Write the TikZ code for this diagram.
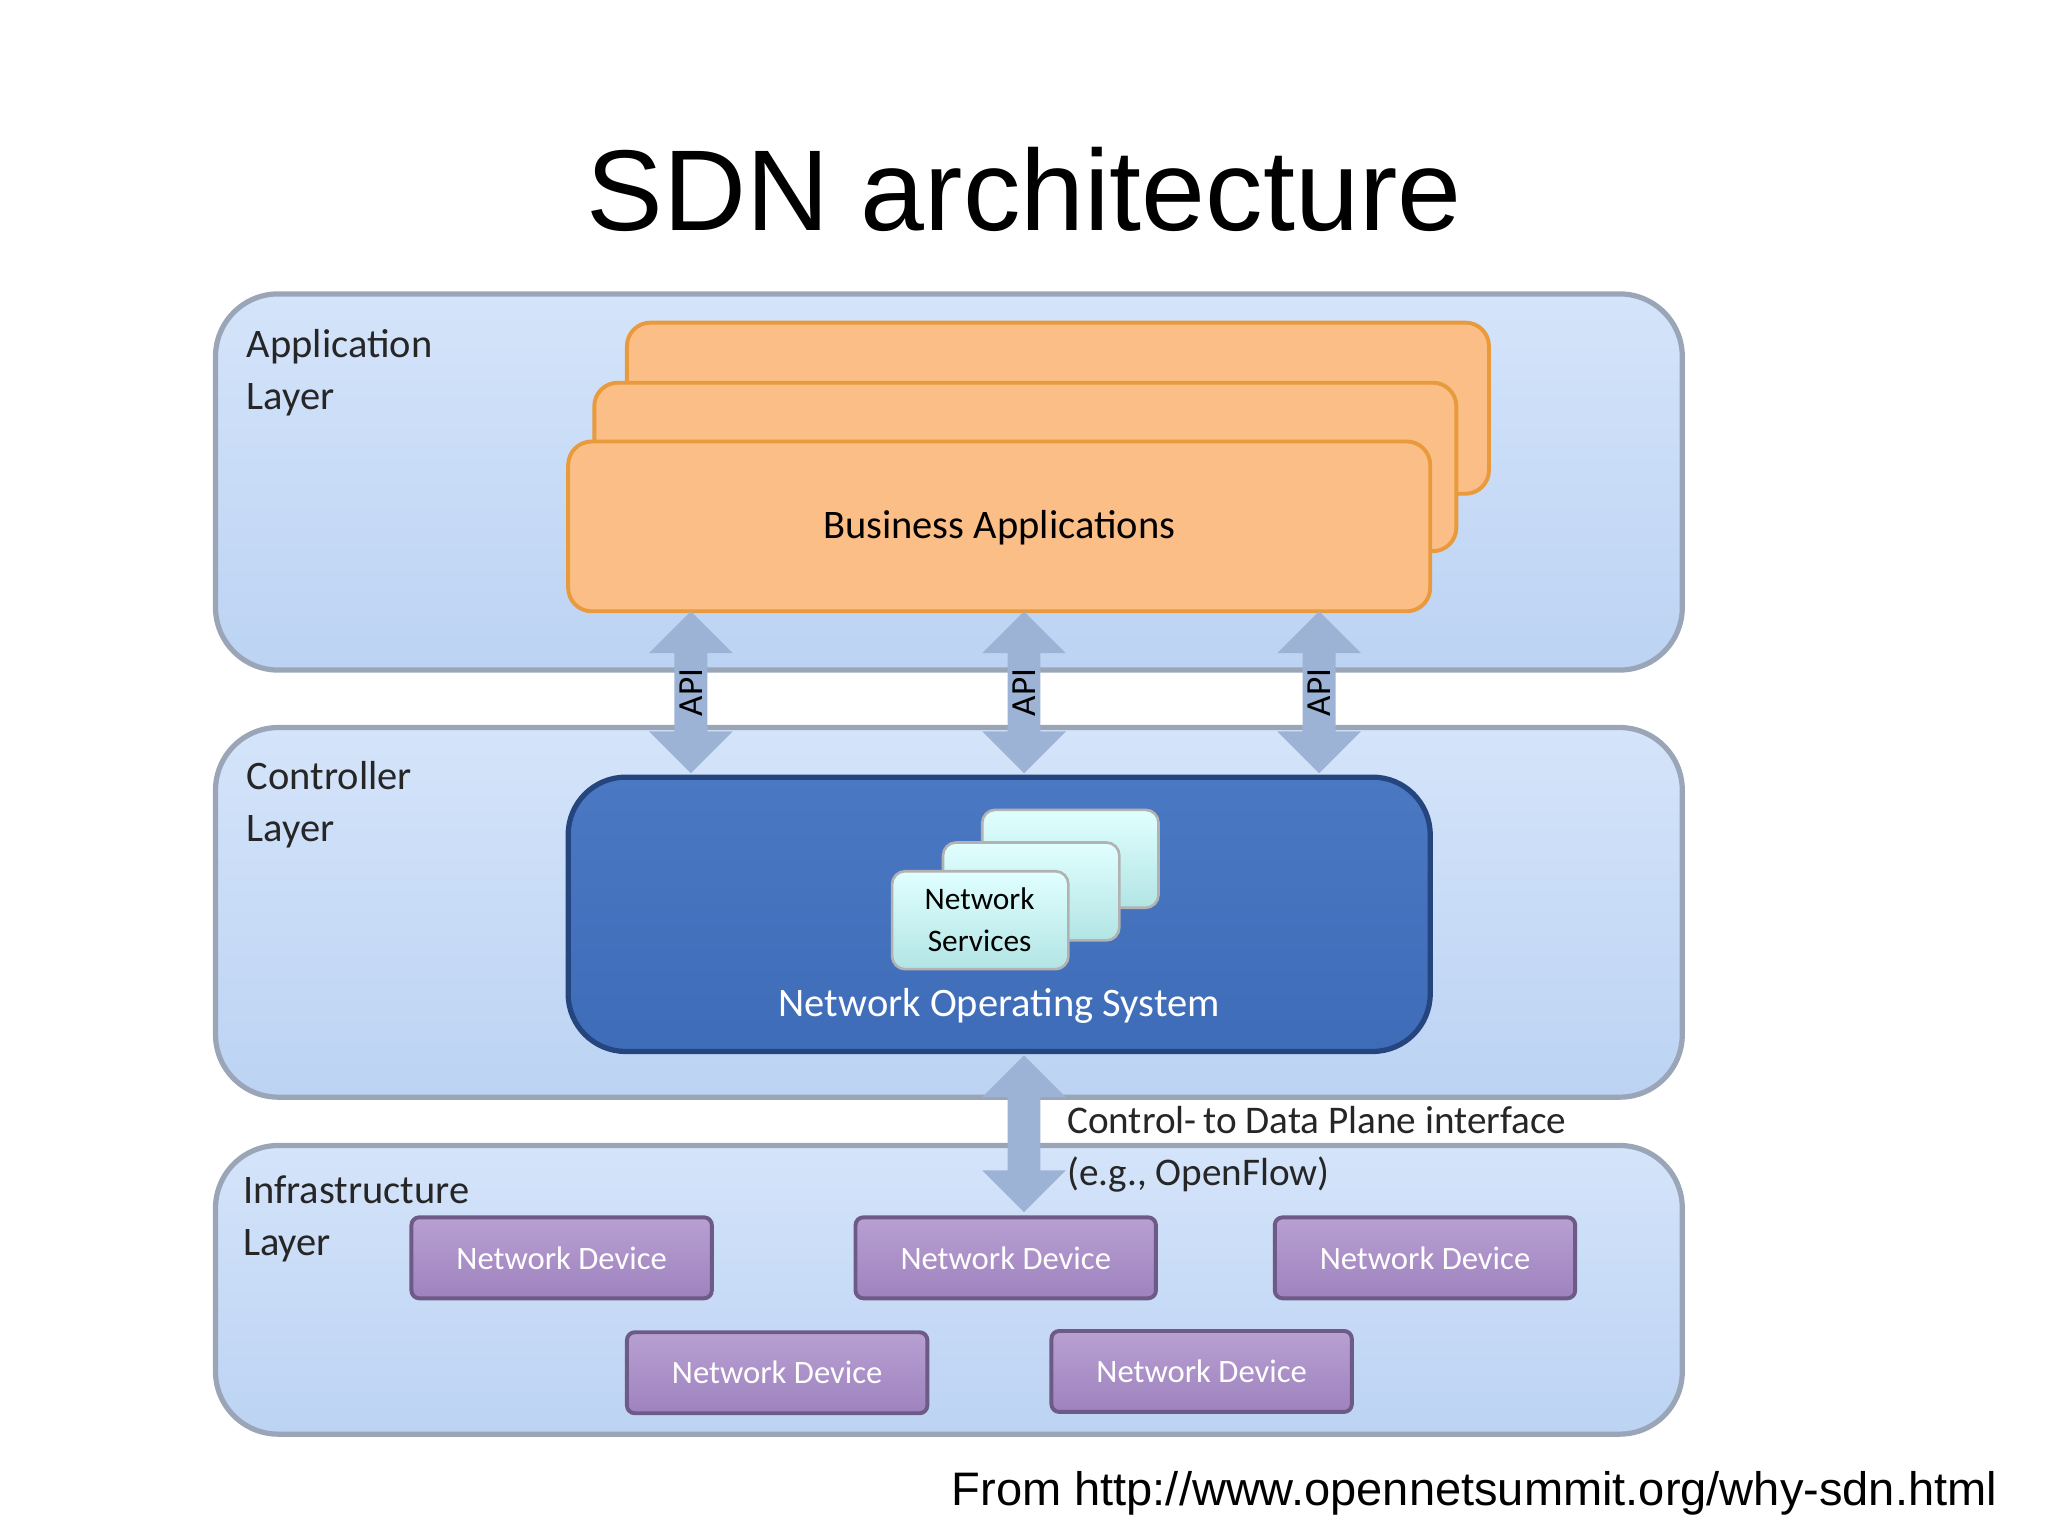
\documentclass[tikz,border=0pt]{standalone}
\usepackage{fontspec}
\setmainfont{Carlito}
\newfontfamily\arial{Liberation Sans}
\usetikzlibrary{shapes.arrows}
\definecolor{laytop}{HTML}{D4E4FA}
\definecolor{laybot}{HTML}{BCD3F3}
\definecolor{layedge}{HTML}{9AA6B8}
\definecolor{appfill}{HTML}{FBBE86}
\definecolor{appedge}{HTML}{E89A3C}
\definecolor{devtop}{HTML}{B8A0D2}
\definecolor{devbot}{HTML}{9E82BE}
\definecolor{devedge}{HTML}{6E5A86}
\definecolor{arr}{HTML}{9DB3D6}
\definecolor{nostop}{HTML}{4A78C2}
\definecolor{nosbot}{HTML}{3F6CB8}
\definecolor{nosedge}{HTML}{24457E}
\begin{document}
\begin{tikzpicture}[x=0.5pt,y=-0.5pt,
 layer/.style={draw=layedge,line width=2pt,rounded corners=24pt,top color=laytop,bottom color=laybot},
 app/.style={draw=appedge,line width=1.5pt,rounded corners=9pt,fill=appfill},
 svc/.style={draw=gray!60,line width=1pt,rounded corners=5pt,top color=cyan!12,bottom color=cyan!30!teal!30},
 dev/.style={draw=devedge,line width=1.5pt,rounded corners=3pt,top color=devtop,bottom color=devbot,text=white,font=\fontsize{12.5}{14}\selectfont},
 api/.style={double arrow,fill=arr,draw=none,minimum width=32pt,double arrow head extend=8.5pt,double arrow tip angle=90,inner sep=1pt,font=\fontsize{13.5}{15}\selectfont},
 lbl/.style={anchor=north west,align=left,font=\fontsize{15.5}{20}\selectfont,text=black!85}]
\useasboundingbox (0,0) rectangle (1568,1175);
\node[font=\arial\fontsize{44}{50}\selectfont] (title) at (784,145) {SDN architecture};
% layers
\draw[layer] (165,225) rectangle (1288,513);
\draw[layer] (165,557) rectangle (1288,840);
\draw[layer] (165,877) rectangle (1288,1098);
\node[lbl] (la) at (182,245) {Application\\Layer};
\node[lbl] (lc) at (182,576) {Controller\\Layer};
\node[lbl] (li) at (179,893) {Infrastructure\\Layer};
% apps
\draw[app] (480,247) rectangle (1140,378);
\draw[app] (455,293) rectangle (1115,422);
\draw[app] (435,338) rectangle (1095,468);
\node[font=\fontsize{15.5}{16}\selectfont] (ba) at (765,404) {Business Applications};
% NOS
\draw[draw=nosedge,line width=2pt,rounded corners=22pt,top color=nostop,bottom color=nosbot] (435,595) rectangle (1095,805);
\draw[svc] (752,620) rectangle (887,695);
\draw[svc] (722,645) rectangle (857,720);
\draw[svc] (683,667) rectangle (818,742);
\node[align=center,font=\fontsize{12}{16}\selectfont] (ns) at (750,704) {Network\\Services};
\node[text=white,font=\fontsize{15.5}{16}\selectfont] (nos) at (765,770) {Network Operating System};
% API arrows
\foreach \x/\n in {529/a1,784/a2,1010/a3}
  \node[api,rotate=90,minimum height=62pt] (\n) at (\x,530) {API};
\node[api,rotate=90,minimum height=60pt] (cp) at (784,868) {\phantom{API}};
\node[lbl,font=\fontsize{15}{20}\selectfont] (cpl) at (810,840) {Control-\,to Data Plane interface\\(e.g., OpenFlow)};
% devices
\foreach \x/\y/\n in {315/932/d1,655/932/d2,976/932/d3,480/1020/d4,805/1019/d5}
  \draw[dev] (\x,\y) rectangle node (\n) {Network Device} ++(230,62);
\node[anchor=east,font=\arial\fontsize{18}{20}\selectfont] (src) at (1536,1143) {From http://www.opennetsummit.org/why-sdn.html};
\end{tikzpicture}
\end{document}
